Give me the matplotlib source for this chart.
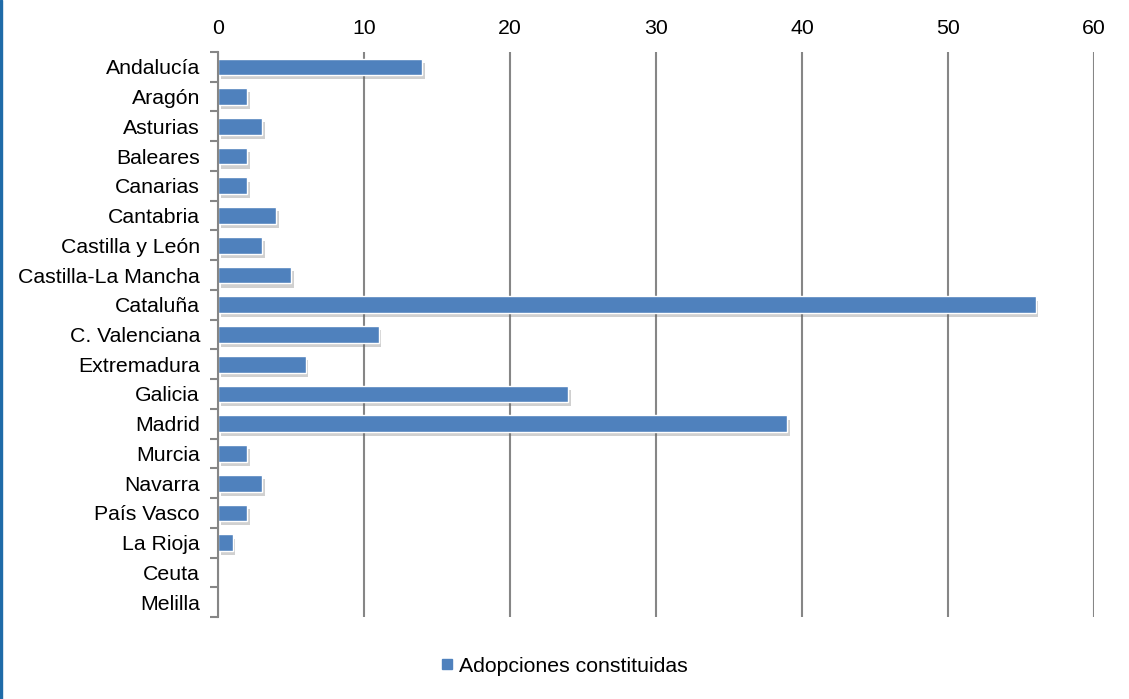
import matplotlib.pyplot as plt
import matplotlib.patheffects as pe
from matplotlib.patches import Rectangle
from matplotlib.lines import Line2D

plt.rcParams['font.family'] = ['Liberation Sans', 'DejaVu Sans']

# data
regions = ['Andalucía', 'Aragón', 'Asturias', 'Baleares', 'Canarias', 'Cantabria',
           'Castilla y León', 'Castilla-La Mancha', 'Cataluña', 'C. Valenciana',
           'Extremadura', 'Galicia', 'Madrid', 'Murcia', 'Navarra', 'País Vasco',
           'La Rioja', 'Ceuta', 'Melilla']
adopciones = [14, 2, 3, 2, 2, 4, 3, 5, 56, 11, 6, 24, 39, 2, 3, 2, 1, 0, 0]
x_ticks = [0, 10, 20, 30, 40, 50, 60]

bar_color = '#4F81BD'
grid_color = '#868686'
fs = 15.3

fig = plt.figure(figsize=(11.29, 6.99), dpi=100)
ax = fig.add_axes([0.1931, 0.1173, 0.9690 - 0.1931, 0.9256 - 0.1173])

pos = list(range(len(regions)))
bars = ax.barh(pos, adopciones, height=0.56, color=bar_color,
               edgecolor='white', linewidth=1.0, zorder=3,
               label='Adopciones constituidas')
for b in bars:
    b.set_path_effects([pe.SimplePatchShadow(offset=(2, -3), shadow_rgbFace='#666666', alpha=0.3),
                        pe.Normal()])

ax.set_ylim(len(regions) - 0.5, -0.5)
ax.set_xlim(0, 60)
ax.set_xticks(x_ticks)
ax.xaxis.tick_top()
ax.tick_params(axis='x', length=0, labelsize=fs, pad=10)
ax.grid(axis='x', color=grid_color, linewidth=1.5, zorder=0)

# category boundaries as tick marks on left spine
ax.set_yticks([p - 0.5 for p in pos] + [len(regions) - 0.5])
ax.set_yticklabels([])
ax.set_yticks(pos, minor=True)
ax.set_yticklabels(regions, minor=True, fontsize=fs)
ax.tick_params(axis='y', which='major', length=6, width=1.5, color=grid_color, direction='out')
ax.tick_params(axis='y', which='minor', length=0, pad=13)

for s in ['top', 'right', 'bottom']:
    ax.spines[s].set_visible(False)
ax.spines['left'].set_color(grid_color)
ax.spines['left'].set_linewidth(1.5)
ax.spines['left'].set_zorder(4)

handle = Line2D([], [], marker='s', linestyle='none', markersize=6.5,
                markerfacecolor=bar_color, markeredgecolor=bar_color)
fig.legend([handle], ['Adopciones constituidas'], loc='center',
           bbox_to_anchor=(0.50, 0.047), frameon=False, fontsize=fs,
           handlelength=0.5, handletextpad=0.3)

# blue edge on the left side of the image
fig.patches.append(Rectangle((0, 0), 0.0022, 1, transform=fig.transFigure,
                             color='#1F6BA8', zorder=10))

fig.savefig('out.png', dpi=100)
